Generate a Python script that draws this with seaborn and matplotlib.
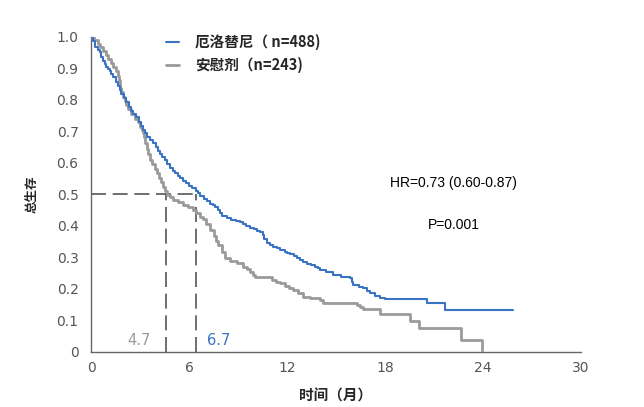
import matplotlib
matplotlib.use("Agg")
import matplotlib.pyplot as plt
import seaborn as sns
import pandas as pd
from matplotlib.lines import Line2D

# ---- data ----
erl_t = [0, 0.1, 0.23, 0.4, 0.53, 0.63, 0.73, 0.83, 0.93, 1.04, 1.14, 1.24, 1.34, 1.5, 1.65, 1.75,
         1.85, 2.0, 2.16, 2.3, 2.46, 2.6, 2.77, 2.92, 3.07, 3.2, 3.31, 3.45, 3.6, 3.82, 3.95, 4.1,
         4.2, 4.33, 4.5, 4.65, 4.84, 5.0, 5.15, 5.3, 5.45, 5.65, 5.8, 6.0, 6.17, 6.4, 6.55, 6.7,
         6.9, 7.1, 7.29, 7.45, 7.59, 7.75, 7.9, 8.05, 8.31, 8.6, 8.85, 9.12, 9.3, 9.5, 9.74, 9.95,
         10.15, 10.35, 10.5, 10.62, 10.76, 10.95, 11.15, 11.37, 11.6, 11.85, 12.0, 12.19, 12.4,
         12.6, 12.8, 13.0, 13.2, 13.45, 13.7, 13.92, 14.0, 14.4, 14.84, 15.3, 15.86, 16.0, 16.06,
         16.4, 16.68, 16.9, 17.08, 17.4, 17.7, 18.0, 20.6, 21.65, 25.86]
erl_s = [1.0, 0.985, 0.966, 0.957, 0.95, 0.937, 0.924, 0.913, 0.903, 0.897, 0.892, 0.881, 0.871,
         0.857, 0.844, 0.831, 0.818, 0.805, 0.792, 0.778, 0.765, 0.755, 0.744, 0.730, 0.717,
         0.703, 0.693, 0.683, 0.673, 0.662, 0.650, 0.637, 0.628, 0.619, 0.607, 0.595, 0.582,
         0.574, 0.566, 0.558, 0.550, 0.543, 0.535, 0.527, 0.519, 0.511, 0.503, 0.494, 0.486,
         0.478, 0.470, 0.465, 0.460, 0.450, 0.440, 0.432, 0.423, 0.418, 0.415, 0.411, 0.405,
         0.398, 0.392, 0.388, 0.384, 0.381, 0.370, 0.357, 0.344, 0.338, 0.333, 0.328, 0.322,
         0.316, 0.313, 0.310, 0.303, 0.297, 0.291, 0.286, 0.280, 0.275, 0.270, 0.265, 0.260,
         0.252, 0.243, 0.238, 0.233, 0.222, 0.212, 0.206, 0.201, 0.193, 0.185, 0.177, 0.169,
         0.166, 0.154, 0.132, 0.132]

pla_t = [0, 0.2, 0.43, 0.58, 0.73, 0.9, 1.04, 1.2, 1.34, 1.5, 1.65, 1.7, 1.75, 1.8, 1.85, 1.95,
         2.06, 2.16, 2.26, 2.45, 2.72, 2.88, 3.0, 3.1, 3.18, 3.25, 3.31, 3.4, 3.5, 3.61, 3.75,
         3.9, 4.02, 4.15, 4.3, 4.43, 4.55, 4.63, 4.85, 5.04, 5.35, 5.65, 5.95, 6.26, 6.45, 6.67,
         6.85, 7.05, 7.29, 7.5, 7.65, 7.8, 8.0, 8.2, 8.5, 8.92, 9.3, 9.55, 9.74, 9.9, 10.04, 10.4,
         10.76, 11.1, 11.35, 11.57, 11.9, 12.15, 12.39, 12.7, 13.0, 13.4, 13.82, 14.0, 14.2,
         16.27, 16.47, 16.67, 17.7, 19.5, 20.1, 22.65, 23.95]
pla_s = [1.0, 0.99, 0.977, 0.967, 0.956, 0.942, 0.929, 0.916, 0.903, 0.89, 0.876, 0.863, 0.85,
         0.836, 0.823, 0.81, 0.797, 0.783, 0.77, 0.755, 0.74, 0.728, 0.714, 0.705, 0.695, 0.68,
         0.662, 0.645, 0.627, 0.609, 0.595, 0.58, 0.566, 0.553, 0.538, 0.524, 0.51, 0.497, 0.49,
         0.482, 0.474, 0.466, 0.458, 0.45, 0.44, 0.429, 0.42, 0.405, 0.386, 0.368, 0.352, 0.339,
         0.318, 0.297, 0.289, 0.281, 0.27, 0.262, 0.254, 0.245, 0.238, 0.237, 0.236, 0.228,
         0.222, 0.217, 0.21, 0.203, 0.196, 0.185, 0.175, 0.172, 0.170, 0.164, 0.154, 0.147,
         0.143, 0.136, 0.12, 0.098, 0.075, 0.037, 0.0]

series_labels = ["厄洛替尼（ n=488)", "安慰剂（n=243)"]
median_pos = [4.6, 6.4]
median_labels = ["4.7", "6.7"]
x_ticks = [0, 6, 12, 18, 24, 30]
y_ticks = [0, 0.1, 0.2, 0.3, 0.4, 0.5, 0.6, 0.7, 0.8, 0.9, 1.0]
y_ticklabels = ["0", "0.1", "0.2", "0.3", "0.4", "0.5", "0.6", "0.7", "0.8", "0.9", "1.0"]
hr_text = "HR=0.73 (0.60-0.87)"
p_text = "P=0.001"

BLUE = "#3b73c4"
GRAY = "#9a9a9a"
DASH = "#555555"

sns.set_theme(style="white")
plt.rcParams['font.family'] = ['DejaVu Sans', 'Noto Sans CJK SC']

fig = plt.figure(figsize=(6.44, 4.07), dpi=100)
ax = fig.add_axes([91/644, 1-351.7/407, 490/644, 315/407])

df_e = pd.DataFrame({"t": erl_t, "s": erl_s})
df_p = pd.DataFrame({"t": pla_t, "s": pla_s})
sns.lineplot(data=df_p, x="t", y="s", ax=ax, color=GRAY, lw=2.0, drawstyle="steps-post",
             estimator=None, zorder=3)
sns.lineplot(data=df_e, x="t", y="s", ax=ax, color=BLUE, lw=1.5, drawstyle="steps-post",
             estimator=None, zorder=4)

# median reference lines
ax.plot([0, median_pos[1]], [0.5, 0.5], color=DASH, lw=1.2, dashes=(9, 4), zorder=2)
for m in median_pos:
    ax.plot([m, m], [0, 0.5], color=DASH, lw=1.2, dashes=(9, 4), zorder=2)
ax.text(2.94, 0.034, median_labels[0], color=GRAY, fontsize=10.5, ha="center", va="center")
ax.text(7.84, 0.034, median_labels[1], color=BLUE, fontsize=10.5, ha="center", va="center")

ax.text(22.2, 0.536, hr_text, fontsize=10, ha="center", va="center", family="Liberation Sans", color="black")
ax.text(22.2, 0.402, p_text, fontsize=10, ha="center", va="center", family="Liberation Sans", color="black")

ax.set_xlim(0, 30)
ax.set_ylim(0, 1.0)
ax.set_xticks(x_ticks)
ax.set_yticks(y_ticks)
ax.set_yticklabels(y_ticklabels)
ax.tick_params(axis="both", direction="out", length=4, width=1, color="#666666",
               labelcolor="#555555", labelsize=10, pad=3)
ax.tick_params(axis="y", pad=5)
for sp in ["top", "right"]:
    ax.spines[sp].set_visible(False)
for sp in ["left", "bottom"]:
    ax.spines[sp].set_color("#666666")
    ax.spines[sp].set_linewidth(1.0)
ax.set_xlabel("时间（月）", fontsize=10.5, fontweight="bold", family=["Noto Sans CJK SC"], labelpad=9)
ax.set_ylabel("总生存", fontsize=9, fontweight="bold", family=["Noto Sans CJK SC"], labelpad=13)
ax.set_facecolor("white")

handles = [Line2D([0], [0], color=BLUE, lw=1.5), Line2D([0], [0], color=GRAY, lw=2.0)]
leg = ax.legend(handles, series_labels, loc="upper left", bbox_to_anchor=(153/644, 1-21/407),
                bbox_transform=fig.transFigure, frameon=False, handlelength=0.9, handletextpad=1.1,
                labelspacing=0.45, prop={"family": ["Noto Sans CJK SC"], "weight": "bold", "size": 10.5})

fig.savefig("out.png", dpi=100, facecolor="white")
